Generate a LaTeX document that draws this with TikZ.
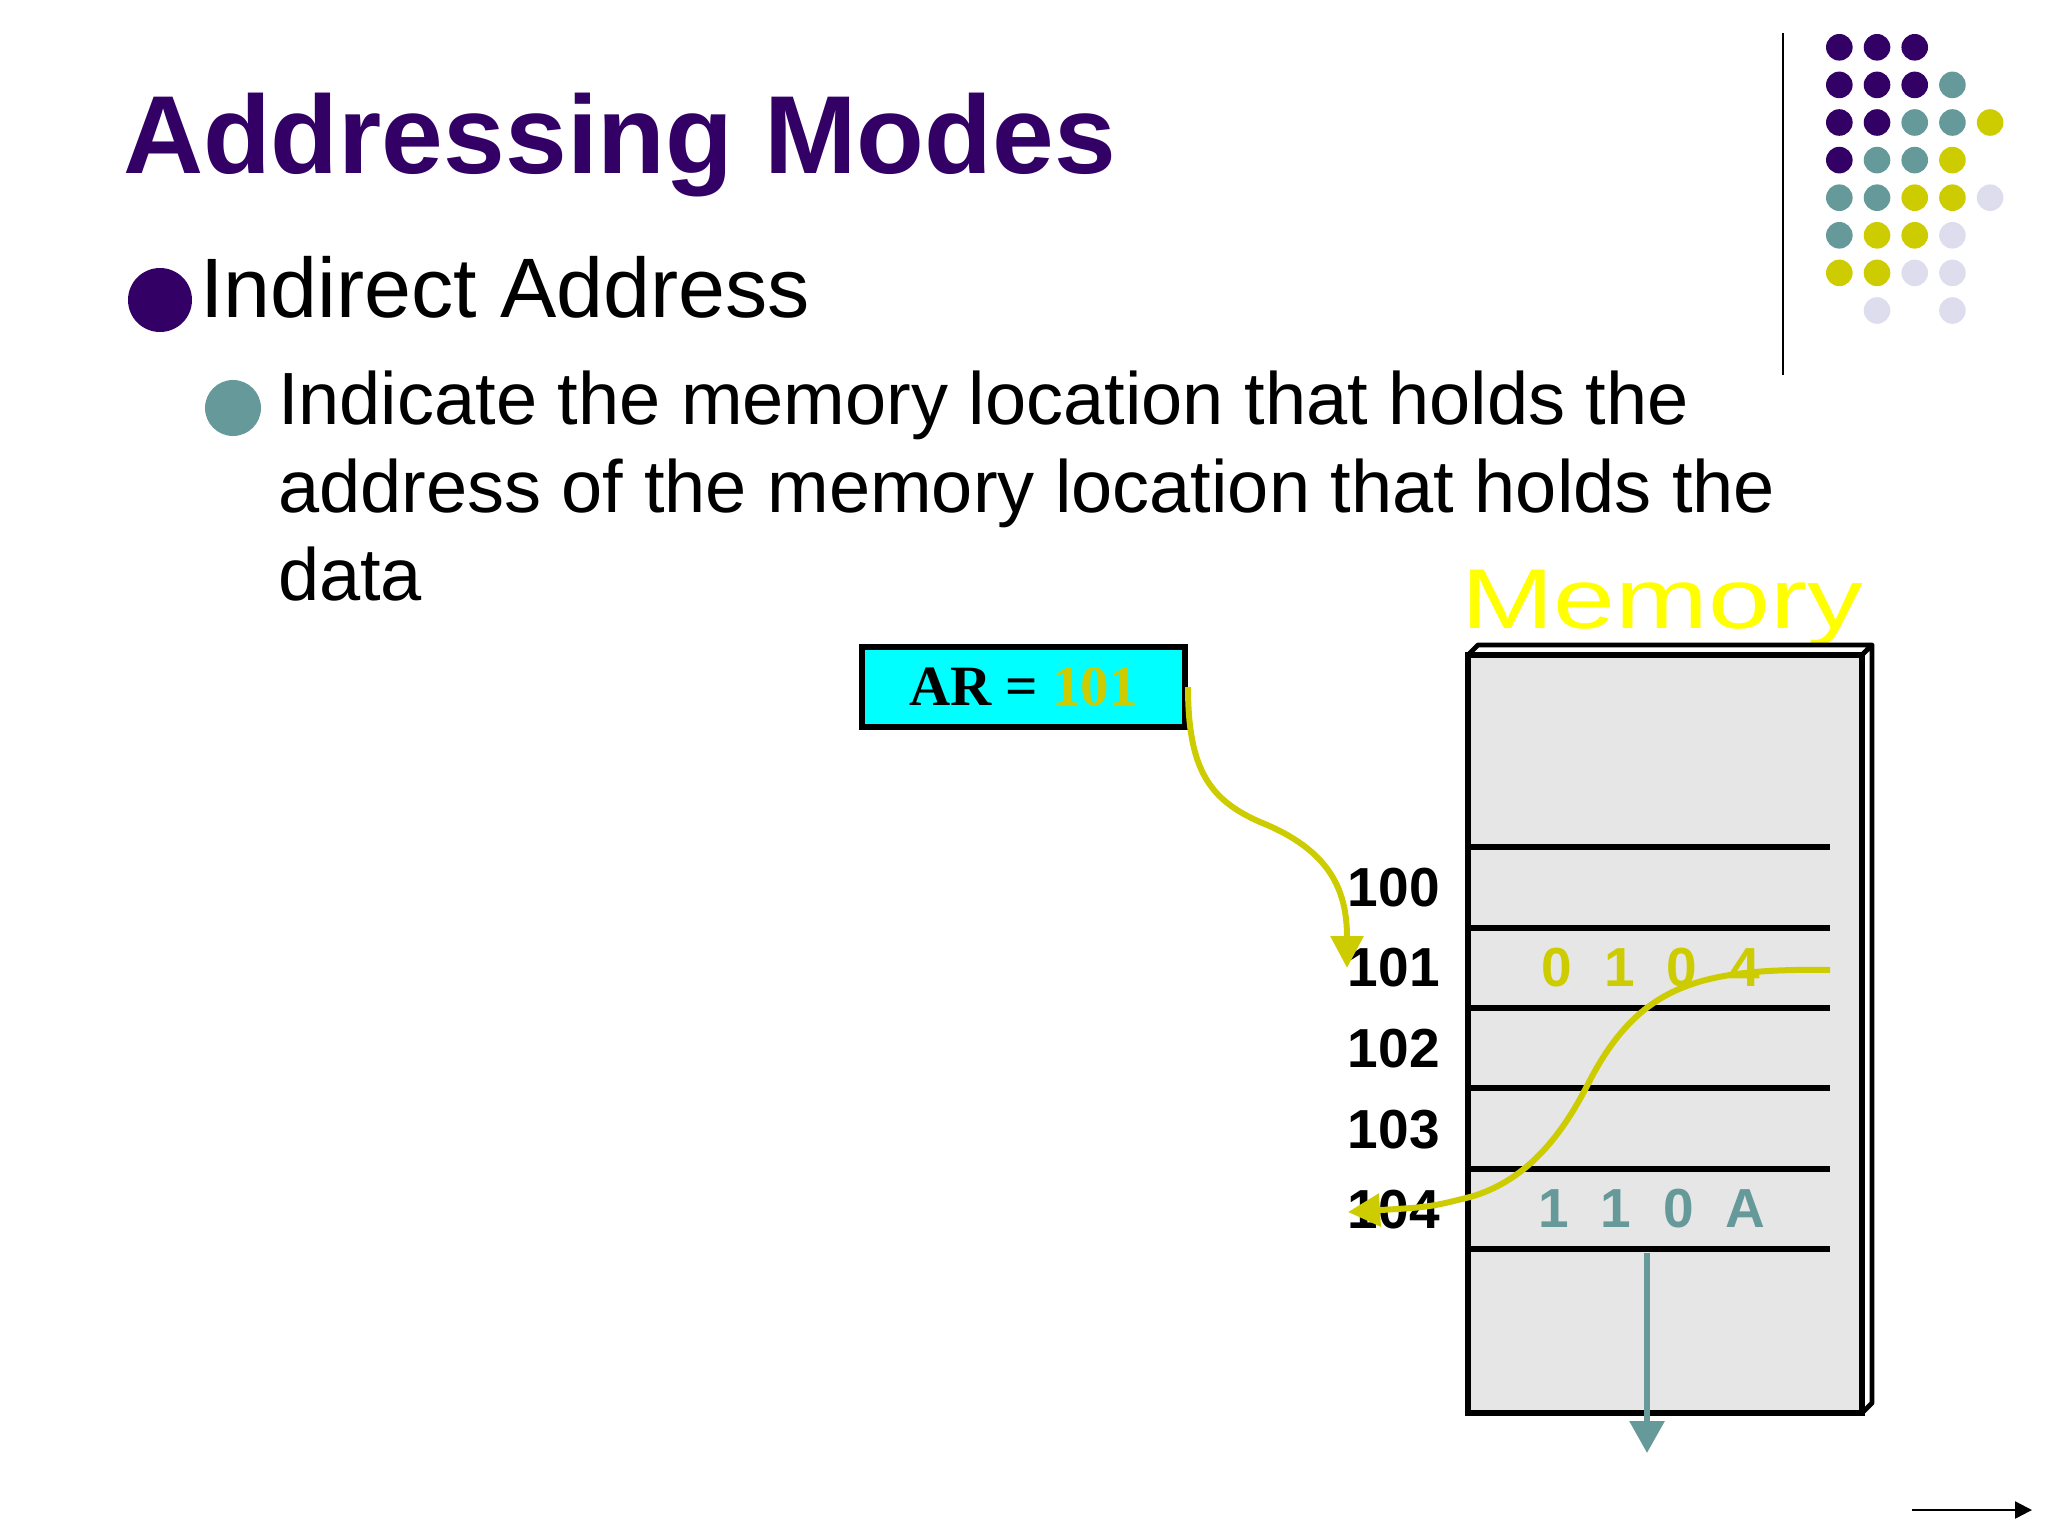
\documentclass[tikz,border=0pt]{standalone}
\usepackage{fontspec}
\setmainfont{Liberation Sans}
\newfontfamily\timesfont{Liberation Serif}
\usetikzlibrary{arrows.meta}
\definecolor{tpurple}{HTML}{330066}
\definecolor{tteal}{HTML}{669999}
\definecolor{tyellow}{HTML}{CCCC00}
\definecolor{tlav}{HTML}{DDDDEE}
\definecolor{myellow}{HTML}{FFFF00}
\definecolor{memgrey}{HTML}{E6E6E6}
\definecolor{arcyan}{HTML}{00FFFF}
\begin{document}
\begin{tikzpicture}[x=0.5pt,y=-0.5pt,
  txt/.style={inner sep=0pt, outer sep=0pt, anchor=base west},
  dot/.style={circle, inner sep=0pt, minimum size=13.3pt},
  addr/.style={inner sep=0pt, anchor=east, font=\fontsize{27.5}{30}\selectfont\bfseries},
  cell/.style={inner sep=0pt, font=\fontsize{27.5}{30}\selectfont\bfseries},
  rowline/.style={line width=3pt},
  ycurve/.style={draw=tyellow, line width=3pt, -{Triangle[length=16pt,width=16pt]}},
  tarrow/.style={draw=tteal, line width=3pt, -{Triangle[length=16pt,width=17pt]}},
]
\useasboundingbox (0,0) rectangle (2048,1536);

% title and bullets
\node[txt, font=\fontsize{55.5}{60}\selectfont\bfseries, text=tpurple] (title) at (123,173) {Addressing Modes};
\node[circle, fill=tpurple, inner sep=0pt, minimum size=32pt] (b1) at (160,300) {};
\node[txt, font=\fontsize{42.2}{46}\selectfont] (t1) at (200,317) {Indirect Address};
\node[circle, fill=tteal, inner sep=0pt, minimum size=28pt] (b2) at (233,408) {};
\node[txt, font=\fontsize{37}{44}\selectfont] (t2a) at (278,424) {Indicate the memory location that holds the};
\node[txt, font=\fontsize{37}{44}\selectfont] (t2b) at (278,512) {address of the memory location that holds the};
\node[txt, font=\fontsize{37}{44}\selectfont] (t2c) at (278,600) {data};

% side decoration
\coordinate (vtop) at (1783,33);
\coordinate (vbot) at (1783,375);
\draw[line width=1.4pt] (vtop) -- (vbot);
\foreach \c/\r/\col [count=\i] in {
  0/0/tpurple,1/0/tpurple,2/0/tpurple,
  0/1/tpurple,1/1/tpurple,2/1/tpurple,3/1/tteal,
  0/2/tpurple,1/2/tpurple,2/2/tteal,3/2/tteal,4/2/tyellow,
  0/3/tpurple,1/3/tteal,2/3/tteal,3/3/tyellow,
  0/4/tteal,1/4/tteal,2/4/tyellow,3/4/tyellow,4/4/tlav,
  0/5/tteal,1/5/tyellow,2/5/tyellow,3/5/tlav,
  0/6/tyellow,1/6/tyellow,2/6/tlav,3/6/tlav,
  1/7/tlav,3/7/tlav}
  \node[dot, fill=\col] (d\i) at ({1839.3+37.7*\c},{47.3+37.6*\r}) {};

% AR register
\node[draw, line width=3pt, fill=arcyan, inner sep=0pt, minimum width=161.5pt, minimum height=40pt,
      font=\timesfont\fontsize{28.5}{30}\selectfont\bfseries] (ar) at (1023.5,687)
      {AR = \textcolor{tyellow}{101}};

% memory block
\node[txt, text=myellow, font=\fontsize{42.5}{46}\selectfont] (memlabel) at (1461,628) {\scalebox{1.31}[1]{Memory}};
\draw[fill=white, line width=2.4pt, line join=round] (1468,655) -- (1478,645) -- (1872,645) -- (1862,655) -- cycle;
\draw[fill=white, line width=2.4pt, line join=round] (1862,655) -- (1872,645) -- (1872,1403) -- (1862,1413) -- cycle;
\node[draw, line width=3.3pt, fill=memgrey, inner sep=0pt, minimum width=197pt, minimum height=379pt] (mem) at (1665,1034) {};
\foreach \y [count=\k] in {847,928,1008,1088,1169,1249} {
  \coordinate (la\k) at (1468,\y);
  \coordinate (lb\k) at (1830,\y);
  \draw[rowline] (la\k) -- (lb\k);
}

% addresses
\node[addr] (a100) at (1440,887.5) {100};
\node[addr] (a101) at (1440,968) {101};
\node[addr] (a102) at (1440,1049) {102};
\node[addr] (a103) at (1440,1130) {103};
\node[addr] (a104) at (1440,1210) {104};

% contents
\node[cell, text=tyellow] (v101) at (1651,968) {0\hspace{16pt}1\hspace{16pt}0\hspace{16pt}4};
\node[cell, text=tteal] (v104) at (1652,1209) {1\hspace{16pt}1\hspace{16pt}0\hspace{16pt}A};

% connectors
\coordinate (tip101) at (1347,968);
\coordinate (c1mid) at (1260,822);
\draw[ycurve] (ar.east) .. controls (1188,770) and (1210,800) .. (c1mid)
  .. controls (1330,850) and (1347,890) .. (tip101);

\coordinate (start101) at (1830,970);
\coordinate (c2a) at (1590,1080);
\coordinate (c2b) at (1470,1197);
\coordinate (tip104) at (1348,1212);
\draw[ycurve] (start101) .. controls (1700,968) and (1640,985) .. (c2a)
  .. controls (1565,1130) and (1530,1180) .. (c2b)
  .. controls (1430,1207) .. (tip104);

\coordinate (dstart) at (1647,1253);
\coordinate (dend) at (1647,1453);
\draw[tarrow] (dstart) -- (dend);

% next-slide arrow
\coordinate (nstart) at (1912,1510);
\coordinate (nend) at (2032,1510);
\draw[line width=1.2pt, -{Triangle[length=8.5pt,width=8.5pt]}] (nstart) -- (nend);
\end{tikzpicture}
\end{document}
